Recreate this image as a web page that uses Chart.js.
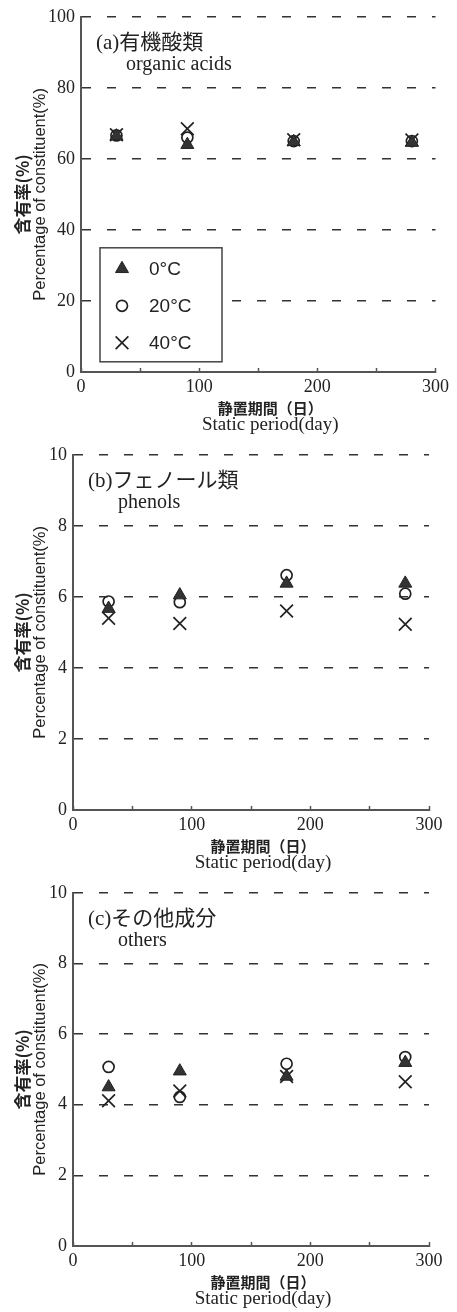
<!DOCTYPE html>
<html>
<head>
<meta charset="utf-8">
<script src="https://cdn.jsdelivr.net/npm/chart.js"></script>
<style>
  body { margin: 0; background: #fff; }
  .panel { position: absolute; left: 0; }
</style>
</head>
<body>
<canvas id="chartA" class="panel" width="457" height="438" style="top:0"></canvas>
<canvas id="chartB" class="panel" width="457" height="438" style="top:438px"></canvas>
<canvas id="chartC" class="panel" width="457" height="436" style="top:876px"></canvas>
<script>
// storage days (x) shared by all three panels
const days = [30, 90, 180, 280];
const tempLabels = ['0°C', '20°C', '40°C'];
const xTickLabels = [0, 100, 200, 300];

// (a) organic acids, %
const acids0 = [66.4, 64.0, 64.8, 64.6];
const acids20 = [66.6, 66.0, 65.0, 65.0];
const acids40 = [66.8, 68.5, 65.4, 65.3];

// (b) phenols, %
const phenols0 = [5.67, 6.05, 6.38, 6.38];
const phenols20 = [5.87, 5.85, 6.61, 6.09];
const phenols40 = [5.40, 5.25, 5.60, 5.23];

// (c) others, %
const others0 = [4.50, 4.95, 4.80, 5.19];
const others20 = [5.07, 4.22, 5.16, 5.35];
const others40 = [4.11, 4.39, 4.80, 4.65];

const textColor = '#222';
const tickFont = { family: "'Liberation Serif', serif", size: 18 };

const markerStyles = [
    { pointStyle: 'triangle', pointRadius: 7.5, backgroundColor: '#333', borderColor: '#222', borderWidth: 1 },
    { pointStyle: 'circle', pointRadius: 5.5, backgroundColor: 'rgba(0,0,0,0)', borderColor: '#222', borderWidth: 1.7 },
    { pointStyle: 'crossRot', pointRadius: 9, backgroundColor: 'rgba(0,0,0,0)', borderColor: '#222', borderWidth: 1.7 }
];

// titles, axis titles and the boxed legend
const panelText = {
    id: 'panelText',
    afterDatasetsDraw(chart, args, opts) {
        const ctx = chart.ctx;
        const a = chart.chartArea;
        ctx.save();
        ctx.fillStyle = textColor;
        ctx.textBaseline = 'middle';
        ctx.textAlign = 'left';
        ctx.font = "21px 'Liberation Serif', 'Noto Sans CJK JP'";
        ctx.fillText(opts.title, a.left + 15, a.top + 27);
        ctx.font = "20px 'Liberation Serif'";
        ctx.fillText(opts.subtitle, a.left + 45, a.top + 48);

        // x axis title
        const cx = (a.left + a.right) / 2 + 12;
        ctx.textAlign = 'center';
        ctx.font = "bold 15px 'Noto Sans CJK JP'";
        ctx.fillText('静置期間（日）', cx, a.bottom + 36);
        ctx.font = "19px 'Liberation Serif'";
        ctx.fillText('Static period(day)', cx, a.bottom + 53);

        // y axis title
        const cy = (a.top + a.bottom) / 2;
        ctx.save();
        ctx.translate(23, cy);
        ctx.rotate(-Math.PI / 2);
        ctx.font = "bold 17px 'Noto Sans CJK JP'";
        ctx.fillText('含有率(%)', 0, 0);
        ctx.restore();
        ctx.save();
        ctx.translate(40, cy);
        ctx.rotate(-Math.PI / 2);
        ctx.font = "16.5px 'Liberation Sans'";
        ctx.fillText('Percentage of constituent(%)', 0, 0);
        ctx.restore();

        if (opts.legend) {
            const bx = a.left + 19, by = a.top + 231, bw = 122, bh = 114;
            ctx.fillStyle = '#fff';
            ctx.fillRect(bx, by, bw, bh);
            ctx.strokeStyle = '#444';
            ctx.lineWidth = 1.5;
            ctx.strokeRect(bx, by, bw, bh);
            chart.data.datasets.forEach((ds, i) => {
                const y = by + 21 + i * 37;
                ctx.fillStyle = ds.backgroundColor;
                ctx.strokeStyle = ds.borderColor;
                ctx.lineWidth = ds.borderWidth;
                if (Chart.helpers && Chart.helpers.drawPoint) {
                    Chart.helpers.drawPoint(ctx, {
                        pointStyle: ds.pointStyle,
                        radius: ds.pointRadius,
                        borderWidth: ds.borderWidth,
                        rotation: 0
                    }, bx + 22, y);
                }
                ctx.fillStyle = textColor;
                ctx.textAlign = 'left';
                ctx.font = "19px 'Liberation Sans'";
                ctx.fillText(ds.label, bx + 49, y + 1);
            });
        }
        ctx.restore();
    }
};

function makePanel(id, series, yMax, yStep, text, left, right) {
    const ctx = document.getElementById(id).getContext('2d');
    return new Chart(ctx, {
        type: 'scatter',
        data: {
            datasets: series.map((vals, i) => Object.assign({
                label: tempLabels[i],
                data: days.map((d, j) => ({ x: d, y: vals[j] })),
                showLine: false
            }, markerStyles[i]))
        },
        options: {
            responsive: false,
            animation: false,
            events: [],
            layout: { padding: { top: 16, right: 457 - right, left: 0, bottom: 0 } },
            plugins: {
                legend: { display: false },
                tooltip: { enabled: false },
                panelText: text
            },
            scales: {
                x: {
                    type: 'linear',
                    min: 0,
                    max: 300,
                    ticks: {
                        stepSize: 50,
                        autoSkip: false,
                        maxRotation: 0,
                        padding: 8,
                        color: textColor,
                        font: tickFont,
                        callback: v => xTickLabels.includes(v) ? v : ''
                    },
                    grid: { drawOnChartArea: false, drawTicks: true, tickLength: -4, tickColor: '#555', tickWidth: 1.5 },
                    border: { color: '#555', width: 2 },
                    afterFit: s => { s.height = 66; }
                },
                y: {
                    min: 0,
                    max: yMax,
                    ticks: { stepSize: yStep, padding: 6, color: textColor, font: tickFont },
                    grid: {
                        color: c => c.tick && c.tick.value === 0 ? 'rgba(0,0,0,0)' : '#333',
                        lineWidth: 1.6,
                        drawTicks: false
                    },
                    border: { color: '#555', width: 2, dash: [9, 16] },
                    afterFit: s => { s.width = left; }
                }
            }
        },
        plugins: [panelText]
    });
}

makePanel('chartA', [acids0, acids20, acids40], 100, 20,
    { title: '(a)有機酸類', subtitle: 'organic acids', legend: true }, 81, 436);
makePanel('chartB', [phenols0, phenols20, phenols40], 10, 2,
    { title: '(b)フェノール類', subtitle: 'phenols', legend: false }, 73, 429);
makePanel('chartC', [others0, others20, others40], 10, 2,
    { title: '(c)その他成分', subtitle: 'others', legend: false }, 73, 429);
</script>
</body>
</html>
